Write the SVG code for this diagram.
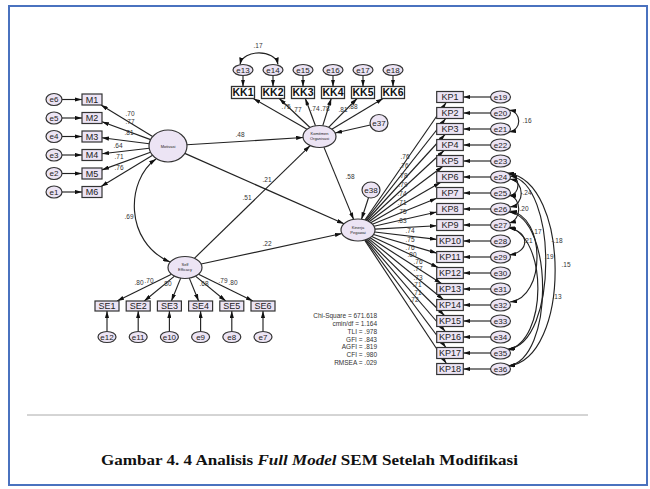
<svg xmlns="http://www.w3.org/2000/svg" width="650" height="489" viewBox="0 0 650 489">
<defs>
<marker id="ah" viewBox="0 0 10 6" refX="10" refY="3" markerWidth="7" markerHeight="4.2" markerUnits="userSpaceOnUse" orient="auto-start-reverse"><path d="M0,0 L10,3 L0,6 z" fill="#111"/></marker>
</defs>
<style>
.ln{stroke:#222;stroke-width:1.15;fill:none;marker-end:url(#ah)}
.cv{stroke:#222;stroke-width:1.15;fill:none;marker-end:url(#ah);marker-start:url(#ah)}
.lv{fill:#ece4f4;stroke:#333;stroke-width:1.2}
.er{fill:#ece4f4;stroke:#333;stroke-width:1.2}
.bx{fill:#ece4f4;stroke:#333;stroke-width:1.2}
.kk{fill:#fff;stroke:#333;stroke-width:1.3}
.et{font-family:"Liberation Sans",Arial,sans-serif;font-size:8px;fill:#222;text-anchor:middle}
.bt{font-family:"Liberation Sans",Arial,sans-serif;font-size:9px;fill:#222;text-anchor:middle}
.kt{font-family:"Liberation Sans",Arial,sans-serif;font-size:10.5px;font-weight:bold;fill:#111;text-anchor:middle}
.lt{font-family:"Liberation Sans",Arial,sans-serif;font-size:6.5px;fill:#333;text-anchor:middle}
.st{font-family:"Liberation Sans",Arial,sans-serif;font-size:6.5px;fill:#333;text-anchor:end}
.tiny{font-family:"Liberation Sans",Arial,sans-serif;font-size:4px;fill:#222;text-anchor:middle}
</style>
<rect width="650" height="489" fill="#fff"/>
<rect x="9" y="6" width="638" height="479" fill="none" stroke="#4a72bf" stroke-width="2"/>
<line x1="27" y1="415" x2="588" y2="415" stroke="#aaa" stroke-width="1"/>

<g id="connectors">
<line class="ln" x1="62" y1="99.5" x2="82" y2="99.5"/>
<line class="ln" x1="62" y1="118" x2="82" y2="118"/>
<line class="ln" x1="62" y1="136.5" x2="82" y2="136.5"/>
<line class="ln" x1="62" y1="155" x2="82" y2="155"/>
<line class="ln" x1="62" y1="173.5" x2="82" y2="173.5"/>
<line class="ln" x1="62" y1="192" x2="82" y2="192"/>
<line class="ln" x1="152.6" y1="136.6" x2="101" y2="105"/>
<line class="ln" x1="150.6" y1="139.6" x2="102" y2="121.7"/>
<line class="ln" x1="149.2" y1="143.7" x2="102" y2="137.8"/>
<line class="ln" x1="149.2" y1="148.2" x2="102" y2="153.8"/>
<line class="ln" x1="150.5" y1="152.3" x2="102" y2="169.9"/>
<line class="ln" x1="152.6" y1="155.3" x2="101.1" y2="186.5"/>
<line class="ln" x1="243" y1="75.5" x2="243" y2="86.5"/>
<line class="ln" x1="273" y1="75.5" x2="273" y2="86.5"/>
<line class="ln" x1="303" y1="75.5" x2="303" y2="86.5"/>
<line class="ln" x1="333" y1="75.5" x2="333" y2="86.5"/>
<line class="ln" x1="363" y1="75.5" x2="363" y2="86.5"/>
<line class="ln" x1="393" y1="75.5" x2="393" y2="86.5"/>
<path class="cv" d="M240,64.5 C243,49 275,49 278,64.5"/>
<line class="ln" x1="307" y1="129.3" x2="253.4" y2="98.5"/>
<line class="ln" x1="310" y1="127.5" x2="279.3" y2="98.5"/>
<line class="ln" x1="315.5" y1="125.8" x2="305.3" y2="98.5"/>
<line class="ln" x1="322.8" y1="125.7" x2="331.2" y2="98.5"/>
<line class="ln" x1="328.6" y1="127.3" x2="357.1" y2="98.5"/>
<line class="ln" x1="331.8" y1="129.2" x2="383" y2="98.5"/>
<line class="ln" x1="370.3" y1="125" x2="335.1" y2="133"/>
<line class="ln" x1="186.9" y1="144.8" x2="303.1" y2="137.5"/>
<line class="ln" x1="184.8" y1="153.4" x2="344" y2="223.8"/>
<line class="ln" x1="323.9" y1="147.1" x2="353.6" y2="219.4"/>
<line class="ln" x1="368.5" y1="197.7" x2="361.5" y2="219.2"/>
<line class="ln" x1="194.4" y1="258.3" x2="310.2" y2="145.6"/>
<line class="ln" x1="201.1" y1="264" x2="341.9" y2="233.5"/>
<path class="cv" d="M156,159 C126,180 124,242 170,262"/>
<line class="ln" x1="171.5" y1="274.2" x2="117.1" y2="301"/>
<line class="ln" x1="174.5" y1="276.1" x2="144.3" y2="301"/>
<line class="ln" x1="180.7" y1="278.1" x2="171.4" y2="301"/>
<line class="ln" x1="189.3" y1="278.1" x2="198.6" y2="301"/>
<line class="ln" x1="195.5" y1="276.1" x2="225.7" y2="301"/>
<line class="ln" x1="198.5" y1="274.2" x2="252.9" y2="301"/>
<line class="ln" x1="107" y1="331.5" x2="107" y2="311"/>
<line class="ln" x1="138.2" y1="331.5" x2="138.2" y2="311"/>
<line class="ln" x1="169.4" y1="331.5" x2="169.4" y2="311"/>
<line class="ln" x1="200.6" y1="331.5" x2="200.6" y2="311"/>
<line class="ln" x1="231.8" y1="331.5" x2="231.8" y2="311"/>
<line class="ln" x1="263" y1="331.5" x2="263" y2="311"/>
<line class="ln" x1="364.9" y1="220" x2="446.2" y2="102.5"/>
<line class="ln" x1="365.7" y1="220.2" x2="445.7" y2="118.5"/>
<line class="ln" x1="366.6" y1="220.5" x2="445" y2="134.5"/>
<line class="ln" x1="367.8" y1="221" x2="444" y2="150.5"/>
<line class="ln" x1="369.1" y1="221.7" x2="442.7" y2="166.5"/>
<line class="ln" x1="370.7" y1="222.7" x2="440.5" y2="182.5"/>
<line class="ln" x1="372.4" y1="224.2" x2="436.7" y2="198.3"/>
<line class="ln" x1="374" y1="226.3" x2="436.7" y2="212"/>
<line class="ln" x1="374.9" y1="229.1" x2="436.7" y2="225.7"/>
<line class="ln" x1="374.7" y1="232" x2="436.7" y2="239.4"/>
<line class="ln" x1="373.5" y1="234.5" x2="436.7" y2="253.1"/>
<line class="ln" x1="371.8" y1="236.4" x2="438.2" y2="267.5"/>
<line class="ln" x1="370.1" y1="237.7" x2="441.4" y2="283.5"/>
<line class="ln" x1="368.6" y1="238.6" x2="443.3" y2="299.5"/>
<line class="ln" x1="367.3" y1="239.2" x2="444.4" y2="315.5"/>
<line class="ln" x1="366.3" y1="239.6" x2="445.3" y2="331.5"/>
<line class="ln" x1="365.4" y1="239.9" x2="445.9" y2="347.5"/>
<line class="ln" x1="364.7" y1="240.1" x2="446.4" y2="363.5"/>
<line class="ln" x1="490.5" y1="97" x2="463.3" y2="97"/>
<line class="ln" x1="490.5" y1="113" x2="463.3" y2="113"/>
<line class="ln" x1="490.5" y1="129" x2="463.3" y2="129"/>
<line class="ln" x1="490.5" y1="145" x2="463.3" y2="145"/>
<line class="ln" x1="490.5" y1="161" x2="463.3" y2="161"/>
<line class="ln" x1="490.5" y1="177" x2="463.3" y2="177"/>
<line class="ln" x1="490.5" y1="193" x2="463.3" y2="193"/>
<line class="ln" x1="490.5" y1="209" x2="463.3" y2="209"/>
<line class="ln" x1="490.5" y1="225" x2="463.3" y2="225"/>
<line class="ln" x1="490.5" y1="241" x2="463.3" y2="241"/>
<line class="ln" x1="490.5" y1="257" x2="463.3" y2="257"/>
<line class="ln" x1="490.5" y1="273" x2="463.3" y2="273"/>
<line class="ln" x1="490.5" y1="289" x2="463.3" y2="289"/>
<line class="ln" x1="490.5" y1="305" x2="463.3" y2="305"/>
<line class="ln" x1="490.5" y1="321" x2="463.3" y2="321"/>
<line class="ln" x1="490.5" y1="337" x2="463.3" y2="337"/>
<line class="ln" x1="490.5" y1="353" x2="463.3" y2="353"/>
<line class="ln" x1="490.5" y1="369" x2="463.3" y2="369"/>
<path class="cv" d="M509,110 C522,112 522,130 509,132"/>
<path class="cv" d="M509,174 C521,176 521,194 509,196"/>
<path class="cv" d="M510,179 C525,182 525,205 510,207"/>
<path class="cv" d="M509,195 C522,198 522,220 509,223"/>
<path class="cv" d="M509,228 C530,232 530,252 509,255"/>
<path class="cv" d="M510,211 C546,216 546,298 510,302"/>
<path class="cv" d="M510,176 C558,182 558,344 508,349"/>
<path class="cv" d="M509,212 C554,218 554,360 508,366"/>
<path class="cv" d="M507,173 C571,180 571,360 508,366"/>
<path class="cv" d="M508,227 C548,236 548,342 507,350"/>
</g>

<g id="labels">
<text class="lt" x="130" y="115.5">.70</text>
<text class="lt" x="130" y="124">.77</text>
<text class="lt" x="129" y="135">.81</text>
<text class="lt" x="118" y="147.5">.64</text>
<text class="lt" x="119" y="158.5">.71</text>
<text class="lt" x="119" y="169.5">.76</text>
<text class="lt" x="258" y="48">.17</text>
<text class="lt" x="286" y="109">.75</text>
<text class="lt" x="297" y="112">.77</text>
<text class="lt" x="315" y="111">.74</text>
<text class="lt" x="325" y="111">.78</text>
<text class="lt" x="343" y="112">.81</text>
<text class="lt" x="353" y="109">.88</text>
<text class="lt" x="240" y="137">.48</text>
<text class="lt" x="267" y="182">.21</text>
<text class="lt" x="247" y="200">.51</text>
<text class="lt" x="267" y="246">.22</text>
<text class="lt" x="350" y="179">.58</text>
<text class="lt" x="129" y="219">.69</text>
<text class="lt" x="139" y="285">.80</text>
<text class="lt" x="149" y="283">.70</text>
<text class="lt" x="167" y="286">.80</text>
<text class="lt" x="204" y="286">.68</text>
<text class="lt" x="223" y="283">.79</text>
<text class="lt" x="233" y="285">.80</text>
<text class="lt" x="405" y="159">.76</text>
<text class="lt" x="404" y="168">.76</text>
<text class="lt" x="403" y="178">.78</text>
<text class="lt" x="403" y="187">.79</text>
<text class="lt" x="402" y="196">.74</text>
<text class="lt" x="402" y="205">.71</text>
<text class="lt" x="402" y="214">.75</text>
<text class="lt" x="402" y="223">.83</text>
<text class="lt" x="410" y="233">.74</text>
<text class="lt" x="410" y="242">.75</text>
<text class="lt" x="410" y="250">.76</text>
<text class="lt" x="412" y="257">.80</text>
<text class="lt" x="418" y="264">.76</text>
<text class="lt" x="418" y="271">.77</text>
<text class="lt" x="418" y="280">.73</text>
<text class="lt" x="417" y="287">.71</text>
<text class="lt" x="417" y="295">.71</text>
<text class="lt" x="414" y="302">.72</text>
<text class="lt" x="527" y="123">.16</text>
<text class="lt" x="526" y="195">-.24</text>
<text class="lt" x="524" y="211">.20</text>
<text class="lt" x="528" y="243">.21</text>
<text class="lt" x="537" y="234">.17</text>
<text class="lt" x="557" y="243">-.18</text>
<text class="lt" x="549" y="259">.19</text>
<text class="lt" x="566" y="267">.15</text>
<text class="lt" x="557" y="299">.13</text>
</g>

<g id="stats">
<text class="st" x="377" y="318">Chi-Square = 671.618</text>
<text class="st" x="377" y="326">cmin/df = 1.164</text>
<text class="st" x="377" y="334">TLI = .978</text>
<text class="st" x="377" y="341.5">GFI = .843</text>
<text class="st" x="377" y="349">AGFI = .819</text>
<text class="st" x="377" y="357">CFI = .980</text>
<text class="st" x="377" y="364.5">RMSEA = .029</text>
</g>

<g id="Motivasi"><ellipse class="lv" cx="168" cy="146" rx="19" ry="16"/><text class="tiny" x="168" y="147.5">Motivasi</text></g>
<g id="Komitmen"><ellipse class="lv" cx="319.5" cy="136.5" rx="16.5" ry="11"/><text class="tiny" x="319.5" y="135">Komitmen</text><text class="tiny" x="319.5" y="140">Organisasi</text></g>
<g id="Kinerja"><ellipse class="lv" cx="358" cy="230" rx="17" ry="11"/><text class="tiny" x="358" y="228.5">Kinerja</text><text class="tiny" x="358" y="233.5">Pegawai</text></g>
<g id="SelfEfficacy"><ellipse class="lv" cx="185" cy="267.5" rx="17" ry="11"/><text class="tiny" x="185" y="266">Self</text><text class="tiny" x="185" y="271">Efficacy</text></g>

<g id="M1"><rect class="bx" x="82" y="94" width="20" height="11"/><text class="bt" x="92" y="102.7">M1</text></g>
<g id="M2"><rect class="bx" x="82" y="112.5" width="20" height="11"/><text class="bt" x="92" y="121.2">M2</text></g>
<g id="M3"><rect class="bx" x="82" y="131" width="20" height="11"/><text class="bt" x="92" y="139.7">M3</text></g>
<g id="M4"><rect class="bx" x="82" y="149.5" width="20" height="11"/><text class="bt" x="92" y="158.2">M4</text></g>
<g id="M5"><rect class="bx" x="82" y="168" width="20" height="11"/><text class="bt" x="92" y="176.7">M5</text></g>
<g id="M6"><rect class="bx" x="82" y="186.5" width="20" height="11"/><text class="bt" x="92" y="195.2">M6</text></g>
<g id="e6"><ellipse class="er" cx="54" cy="99.5" rx="8" ry="6"/><text class="et" x="54" y="102.3">e6</text></g>
<g id="e5"><ellipse class="er" cx="54" cy="118" rx="8" ry="6"/><text class="et" x="54" y="120.8">e5</text></g>
<g id="e4"><ellipse class="er" cx="54" cy="136.5" rx="8" ry="6"/><text class="et" x="54" y="139.3">e4</text></g>
<g id="e3"><ellipse class="er" cx="54" cy="155" rx="8" ry="6"/><text class="et" x="54" y="157.8">e3</text></g>
<g id="e2"><ellipse class="er" cx="54" cy="173.5" rx="8" ry="6"/><text class="et" x="54" y="176.3">e2</text></g>
<g id="e1"><ellipse class="er" cx="54" cy="192" rx="8" ry="6"/><text class="et" x="54" y="194.8">e1</text></g>

<g id="KK1"><rect class="kk" x="231.5" y="86.5" width="23" height="12"/><text class="kt" x="243" y="96.4">KK1</text></g>
<g id="KK2"><rect class="kk" x="261.5" y="86.5" width="23" height="12"/><text class="kt" x="273" y="96.4">KK2</text></g>
<g id="KK3"><rect class="kk" x="291.5" y="86.5" width="23" height="12"/><text class="kt" x="303" y="96.4">KK3</text></g>
<g id="KK4"><rect class="kk" x="321.5" y="86.5" width="23" height="12"/><text class="kt" x="333" y="96.4">KK4</text></g>
<g id="KK5"><rect class="kk" x="351.5" y="86.5" width="23" height="12"/><text class="kt" x="363" y="96.4">KK5</text></g>
<g id="KK6"><rect class="kk" x="381.5" y="86.5" width="23" height="12"/><text class="kt" x="393" y="96.4">KK6</text></g>
<g id="e13"><ellipse class="er" cx="243" cy="70" rx="10" ry="5.5"/><text class="et" x="243" y="72.8">e13</text></g>
<g id="e14"><ellipse class="er" cx="273" cy="70" rx="10" ry="5.5"/><text class="et" x="273" y="72.8">e14</text></g>
<g id="e15"><ellipse class="er" cx="303" cy="70" rx="10" ry="5.5"/><text class="et" x="303" y="72.8">e15</text></g>
<g id="e16"><ellipse class="er" cx="333" cy="70" rx="10" ry="5.5"/><text class="et" x="333" y="72.8">e16</text></g>
<g id="e17"><ellipse class="er" cx="363" cy="70" rx="10" ry="5.5"/><text class="et" x="363" y="72.8">e17</text></g>
<g id="e18"><ellipse class="er" cx="393" cy="70" rx="10" ry="5.5"/><text class="et" x="393" y="72.8">e18</text></g>
<g id="e37"><ellipse class="er" cx="379" cy="123" rx="9" ry="8.5"/><text class="et" x="379" y="125.8">e37</text></g>
<g id="e38"><ellipse class="er" cx="371" cy="190" rx="9" ry="8"/><text class="et" x="371" y="192.8">e38</text></g>

<g id="SE1"><rect class="bx" x="95" y="301" width="24" height="10"/><text class="bt" x="107" y="309.2">SE1</text></g>
<g id="SE2"><rect class="bx" x="126.2" y="301" width="24" height="10"/><text class="bt" x="138.2" y="309.2">SE2</text></g>
<g id="SE3"><rect class="bx" x="157.4" y="301" width="24" height="10"/><text class="bt" x="169.4" y="309.2">SE3</text></g>
<g id="SE4"><rect class="bx" x="188.6" y="301" width="24" height="10"/><text class="bt" x="200.6" y="309.2">SE4</text></g>
<g id="SE5"><rect class="bx" x="219.8" y="301" width="24" height="10"/><text class="bt" x="231.8" y="309.2">SE5</text></g>
<g id="SE6"><rect class="bx" x="251" y="301" width="24" height="10"/><text class="bt" x="263" y="309.2">SE6</text></g>
<g id="e12"><ellipse class="er" cx="107" cy="337" rx="9" ry="5.5"/><text class="et" x="107" y="339.8">e12</text></g>
<g id="e11"><ellipse class="er" cx="138.2" cy="337" rx="9" ry="5.5"/><text class="et" x="138.2" y="339.8">e11</text></g>
<g id="e10"><ellipse class="er" cx="169.4" cy="337" rx="9" ry="5.5"/><text class="et" x="169.4" y="339.8">e10</text></g>
<g id="e9"><ellipse class="er" cx="200.6" cy="337" rx="9" ry="5.5"/><text class="et" x="200.6" y="339.8">e9</text></g>
<g id="e8"><ellipse class="er" cx="231.8" cy="337" rx="9" ry="5.5"/><text class="et" x="231.8" y="339.8">e8</text></g>
<g id="e7"><ellipse class="er" cx="263" cy="337" rx="9" ry="5.5"/><text class="et" x="263" y="339.8">e7</text></g>

<g id="KP1"><rect class="bx" x="436.7" y="91.5" width="26.6" height="11"/><text class="bt" x="450" y="100.2">KP1</text></g>
<g id="KP2"><rect class="bx" x="436.7" y="107.5" width="26.6" height="11"/><text class="bt" x="450" y="116.2">KP2</text></g>
<g id="KP3"><rect class="bx" x="436.7" y="123.5" width="26.6" height="11"/><text class="bt" x="450" y="132.2">KP3</text></g>
<g id="KP4"><rect class="bx" x="436.7" y="139.5" width="26.6" height="11"/><text class="bt" x="450" y="148.2">KP4</text></g>
<g id="KP5"><rect class="bx" x="436.7" y="155.5" width="26.6" height="11"/><text class="bt" x="450" y="164.2">KP5</text></g>
<g id="KP6"><rect class="bx" x="436.7" y="171.5" width="26.6" height="11"/><text class="bt" x="450" y="180.2">KP6</text></g>
<g id="KP7"><rect class="bx" x="436.7" y="187.5" width="26.6" height="11"/><text class="bt" x="450" y="196.2">KP7</text></g>
<g id="KP8"><rect class="bx" x="436.7" y="203.5" width="26.6" height="11"/><text class="bt" x="450" y="212.2">KP8</text></g>
<g id="KP9"><rect class="bx" x="436.7" y="219.5" width="26.6" height="11"/><text class="bt" x="450" y="228.2">KP9</text></g>
<g id="KP10"><rect class="bx" x="436.7" y="235.5" width="26.6" height="11"/><text class="bt" x="450" y="244.2">KP10</text></g>
<g id="KP11"><rect class="bx" x="436.7" y="251.5" width="26.6" height="11"/><text class="bt" x="450" y="260.2">KP11</text></g>
<g id="KP12"><rect class="bx" x="436.7" y="267.5" width="26.6" height="11"/><text class="bt" x="450" y="276.2">KP12</text></g>
<g id="KP13"><rect class="bx" x="436.7" y="283.5" width="26.6" height="11"/><text class="bt" x="450" y="292.2">KP13</text></g>
<g id="KP14"><rect class="bx" x="436.7" y="299.5" width="26.6" height="11"/><text class="bt" x="450" y="308.2">KP14</text></g>
<g id="KP15"><rect class="bx" x="436.7" y="315.5" width="26.6" height="11"/><text class="bt" x="450" y="324.2">KP15</text></g>
<g id="KP16"><rect class="bx" x="436.7" y="331.5" width="26.6" height="11"/><text class="bt" x="450" y="340.2">KP16</text></g>
<g id="KP17"><rect class="bx" x="436.7" y="347.5" width="26.6" height="11"/><text class="bt" x="450" y="356.2">KP17</text></g>
<g id="KP18"><rect class="bx" x="436.7" y="363.5" width="26.6" height="11"/><text class="bt" x="450" y="372.2">KP18</text></g>

<g id="e19"><ellipse class="er" cx="500.5" cy="97" rx="10" ry="6"/><text class="et" x="500.5" y="99.8">e19</text></g>
<g id="e20"><ellipse class="er" cx="500.5" cy="113" rx="10" ry="6"/><text class="et" x="500.5" y="115.8">e20</text></g>
<g id="e21"><ellipse class="er" cx="500.5" cy="129" rx="10" ry="6"/><text class="et" x="500.5" y="131.8">e21</text></g>
<g id="e22"><ellipse class="er" cx="500.5" cy="145" rx="10" ry="6"/><text class="et" x="500.5" y="147.8">e22</text></g>
<g id="e23"><ellipse class="er" cx="500.5" cy="161" rx="10" ry="6"/><text class="et" x="500.5" y="163.8">e23</text></g>
<g id="e24"><ellipse class="er" cx="500.5" cy="177" rx="10" ry="6"/><text class="et" x="500.5" y="179.8">e24</text></g>
<g id="e25"><ellipse class="er" cx="500.5" cy="193" rx="10" ry="6"/><text class="et" x="500.5" y="195.8">e25</text></g>
<g id="e26"><ellipse class="er" cx="500.5" cy="209" rx="10" ry="6"/><text class="et" x="500.5" y="211.8">e26</text></g>
<g id="e27"><ellipse class="er" cx="500.5" cy="225" rx="10" ry="6"/><text class="et" x="500.5" y="227.8">e27</text></g>
<g id="e28"><ellipse class="er" cx="500.5" cy="241" rx="10" ry="6"/><text class="et" x="500.5" y="243.8">e28</text></g>
<g id="e29"><ellipse class="er" cx="500.5" cy="257" rx="10" ry="6"/><text class="et" x="500.5" y="259.8">e29</text></g>
<g id="e30"><ellipse class="er" cx="500.5" cy="273" rx="10" ry="6"/><text class="et" x="500.5" y="275.8">e30</text></g>
<g id="e31"><ellipse class="er" cx="500.5" cy="289" rx="10" ry="6"/><text class="et" x="500.5" y="291.8">e31</text></g>
<g id="e32"><ellipse class="er" cx="500.5" cy="305" rx="10" ry="6"/><text class="et" x="500.5" y="307.8">e32</text></g>
<g id="e33"><ellipse class="er" cx="500.5" cy="321" rx="10" ry="6"/><text class="et" x="500.5" y="323.8">e33</text></g>
<g id="e34"><ellipse class="er" cx="500.5" cy="337" rx="10" ry="6"/><text class="et" x="500.5" y="339.8">e34</text></g>
<g id="e35"><ellipse class="er" cx="500.5" cy="353" rx="10" ry="6"/><text class="et" x="500.5" y="355.8">e35</text></g>
<g id="e36"><ellipse class="er" cx="500.5" cy="369" rx="10" ry="6"/><text class="et" x="500.5" y="371.8">e36</text></g>

<text x="101" y="465" font-family="'Liberation Serif','Times New Roman',serif" font-size="15" font-weight="bold" fill="#111" textLength="417" lengthAdjust="spacingAndGlyphs">Gambar 4. 4 Analisis <tspan font-style="italic">Full Model</tspan> SEM Setelah Modifikasi</text>
</svg>
